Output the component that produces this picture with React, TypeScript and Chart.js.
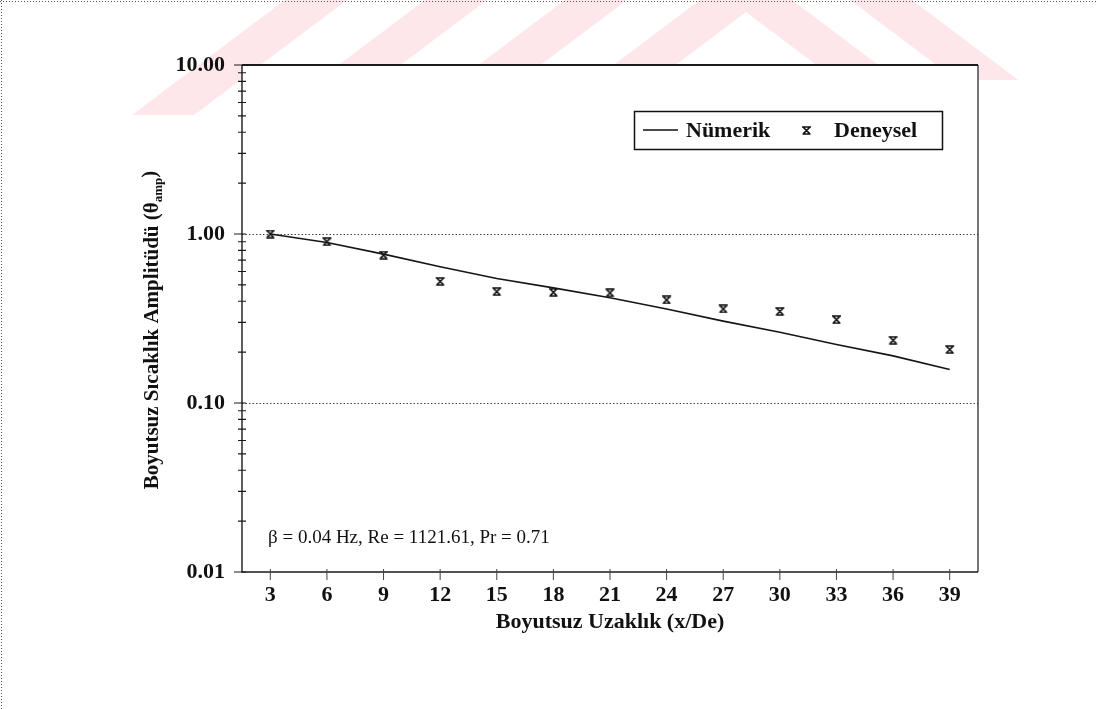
import React, { useEffect, useRef } from "react";
import { Chart, registerables } from "chart.js";
Chart.register(...registerables);

const W = 1098;
const H = 709;

// Data
const positions = [3, 6, 9, 12, 15, 18, 21, 24, 27, 30, 33, 36, 39];
const numeric = [1.0, 0.89, 0.76, 0.64, 0.545, 0.48, 0.42, 0.36, 0.305, 0.262, 0.222, 0.19, 0.158];
const experimental = [1.0, 0.9, 0.75, 0.524, 0.456, 0.452, 0.448, 0.407, 0.36, 0.348, 0.311, 0.235, 0.207];
const yMajor = [0.01, 0.1, 1, 10];
const yTickLabels = ["0.01", "0.10", "1.00", "10.00"];
const xTicks = [3, 6, 9, 12, 15, 18, 21, 24, 27, 30, 33, 36, 39];
const seriesLabels = ["Nümerik", "Deneysel"];
const xTitle = "Boyutsuz Uzaklık (x/De)";
const yTitleMain = "Boyutsuz Sıcaklık Amplitüdü (θ";
const yTitleSub = "amp";
const yTitleEnd = ")";
const note = "β = 0.04 Hz, Re = 1121.61, Pr = 0.71";

const SERIF = "'Liberation Serif', 'DejaVu Serif', serif";

function makeHourglass(): HTMLCanvasElement {
  const c = document.createElement("canvas");
  c.width = 11;
  c.height = 9;
  const g = c.getContext("2d")!;
  g.strokeStyle = "#111";
  g.lineWidth = 1.7;
  g.beginPath();
  g.moveTo(1, 1);
  g.lineTo(10, 1);
  g.moveTo(1.5, 8);
  g.lineTo(9.5, 8);
  g.moveTo(2.5, 1.5);
  g.lineTo(8.5, 7.5);
  g.moveTo(8.5, 1.5);
  g.lineTo(2.5, 7.5);
  g.stroke();
  return c;
}

function band(ctx: CanvasRenderingContext2D, xa: number, xb: number, slope: number, yb: number) {
  ctx.beginPath();
  ctx.moveTo(xa, 0);
  ctx.lineTo(xb, 0);
  ctx.lineTo(xb + slope * yb, yb);
  ctx.lineTo(xa + slope * yb, yb);
  ctx.closePath();
  ctx.fill();
}

function drawWatermark(ctx: CanvasRenderingContext2D) {
  ctx.save();
  ctx.fillStyle = "#fde7eb";
  const yb = 115;
  const s = 1.33;
  band(ctx, 285, 347, -s, yb);
  band(ctx, 425, 487, -s, yb);
  band(ctx, 565, 627, -s, yb);
  band(ctx, 700, 762, -s, yb);
  band(ctx, 730, 792, s, yb);
  band(ctx, 850, 912, s, 80);
  ctx.restore();
}

export default function App() {
  const ref = useRef<HTMLCanvasElement>(null);

  useEffect(() => {
    document.body.style.margin = "0";
    const marker = makeHourglass();

    const decor = {
      id: "decor",
      beforeDraw(chart: any) {
        const { ctx, chartArea } = chart;
        ctx.save();
        ctx.fillStyle = "#ffffff";
        ctx.fillRect(0, 0, W, H);
        drawWatermark(ctx);
        ctx.fillStyle = "#ffffff";
        ctx.fillRect(chartArea.left, chartArea.top, chartArea.right - chartArea.left, chartArea.bottom - chartArea.top);
        ctx.strokeStyle = "#555";
        ctx.lineWidth = 1;
        ctx.setLineDash([1, 2]);
        ctx.beginPath();
        ctx.moveTo(0, 1.5);
        ctx.lineTo(W, 1.5);
        ctx.moveTo(1.5, 0);
        ctx.lineTo(1.5, H);
        ctx.stroke();
        ctx.restore();
      },
      afterDraw(chart: any) {
        const { ctx, chartArea } = chart;
        const { left, right, top, bottom } = chartArea;
        const xs = chart.scales.x;
        const ys = chart.scales.y;
        ctx.save();
        ctx.strokeStyle = "#1a1a1a";
        ctx.setLineDash([]);
        ctx.lineWidth = 2.2;
        ctx.beginPath();
        ctx.moveTo(left, top);
        ctx.lineTo(right, top);
        ctx.stroke();
        ctx.lineWidth = 1.4;
        ctx.beginPath();
        ctx.moveTo(left, top);
        ctx.lineTo(left, bottom);
        ctx.lineTo(right, bottom);
        ctx.stroke();
        ctx.lineWidth = 1.2;
        ctx.beginPath();
        ctx.moveTo(right, top);
        ctx.lineTo(right, bottom);
        ctx.stroke();
        ctx.lineWidth = 1.2;
        ctx.beginPath();
        for (const d of [0.01, 0.1, 1]) {
          for (let m = 2; m <= 9; m++) {
            const y = ys.getPixelForValue(m * d);
            ctx.moveTo(left - 4, y);
            ctx.lineTo(left + 4, y);
          }
        }
        for (const v of yMajor) {
          const y = ys.getPixelForValue(v);
          ctx.moveTo(left - 8, y);
          ctx.lineTo(left + 4, y);
        }
        ctx.stroke();
        ctx.lineWidth = 1;
        ctx.strokeStyle = "#444";
        ctx.beginPath();
        for (const v of xTicks) {
          const x = xs.getPixelForValue(v);
          ctx.moveTo(x, bottom - 3);
          ctx.lineTo(x, bottom + 8);
        }
        ctx.stroke();

        ctx.fillStyle = "#111";
        ctx.font = `bold 22px ${SERIF}`;
        ctx.textAlign = "center";
        ctx.textBaseline = "middle";
        ctx.fillText(xTitle, (left + right) / 2, 622);

        ctx.save();
        const cx = 153;
        const cy = 330;
        ctx.translate(cx, cy);
        ctx.rotate(-Math.PI / 2);
        ctx.textAlign = "left";
        ctx.textBaseline = "middle";
        const fMain = `bold 21px ${SERIF}`;
        const fSub = `bold 13px ${SERIF}`;
        ctx.font = fMain;
        const w1 = ctx.measureText(yTitleMain).width;
        const w3 = ctx.measureText(yTitleEnd).width;
        ctx.font = fSub;
        const w2 = ctx.measureText(yTitleSub).width;
        const total = w1 + w2 + w3;
        let x0 = -total / 2;
        ctx.font = fMain;
        ctx.fillText(yTitleMain, x0, 0);
        x0 += w1;
        ctx.font = fSub;
        ctx.fillText(yTitleSub, x0, 6);
        x0 += w2;
        ctx.font = fMain;
        ctx.fillText(yTitleEnd, x0, -2);
        ctx.restore();

        ctx.font = `19px ${SERIF}`;
        ctx.textAlign = "left";
        ctx.textBaseline = "middle";
        ctx.fillText(note, 268, 538);

        const lx = 634;
        const ly = 111;
        const lw = 308;
        const lh = 38;
        const my = ly + lh / 2;
        ctx.lineWidth = 1.5;
        ctx.strokeStyle = "#111";
        ctx.strokeRect(lx + 0.5, ly + 0.5, lw, lh);
        ctx.lineWidth = 1.4;
        ctx.beginPath();
        ctx.moveTo(643, my);
        ctx.lineTo(678, my);
        ctx.stroke();
        ctx.font = `bold 22px ${SERIF}`;
        ctx.fillText(chart.data.datasets[0].label, 686, my + 1);
        ctx.drawImage(marker, 806 - 5, my - 4);
        ctx.fillText(chart.data.datasets[1].label, 834, my + 1);
        ctx.restore();
      },
    };

    const chart = new Chart(ref.current!, {
      type: "line",
      data: {
        datasets: [
          {
            label: seriesLabels[0],
            data: positions.map((x, i) => ({ x, y: numeric[i] })),
            borderColor: "#151515",
            borderWidth: 1.6,
            pointRadius: 0,
            tension: 0,
          },
          {
            label: seriesLabels[1],
            data: positions.map((x, i) => ({ x, y: experimental[i] })),
            showLine: false,
            pointStyle: marker as any,
            pointRadius: 5,
            borderColor: "#111",
            backgroundColor: "#111",
          },
        ],
      },
      options: {
        responsive: false,
        animation: false,
        layout: { padding: { left: 152, top: 65, right: W - 978, bottom: H - 572 - 40 } },
        plugins: { legend: { display: false }, tooltip: { enabled: false } },
        scales: {
          x: {
            type: "linear",
            min: 1.5,
            max: 40.5,
            afterFit: (s: any) => {
              s.height = 40;
            },
            afterBuildTicks: (s: any) => {
              s.ticks = xTicks.map((v) => ({ value: v }));
            },
            grid: { display: false },
            border: { display: false },
            ticks: {
              font: { family: SERIF, size: 22, weight: "bold" },
              color: "#111",
              padding: 2,
              maxRotation: 0,
              autoSkip: false,
            },
          },
          y: {
            type: "logarithmic",
            min: 0.01,
            max: 10,
            afterFit: (s: any) => {
              s.width = 90;
            },
            afterBuildTicks: (s: any) => {
              s.ticks = yMajor.map((v) => ({ value: v, major: true }));
            },
            grid: {
              drawTicks: false,
              color: (c: any) =>
                c.tick && (c.tick.value === 1 || c.tick.value === 0.1) ? "#444" : "rgba(0,0,0,0)",
              lineWidth: 1,
            },
            border: { display: false, dash: [1.5, 2] },
            ticks: {
              callback: (_v: any, i: number) => yTickLabels[i],
              font: { family: SERIF, size: 22, weight: "bold" },
              color: "#111",
              padding: 17,
              autoSkip: false,
            },
          },
        },
      },
      plugins: [decor],
    });
    return () => chart.destroy();
  }, []);

  return <canvas ref={ref} width={W} height={H} style={{ display: "block" }} />;
}
